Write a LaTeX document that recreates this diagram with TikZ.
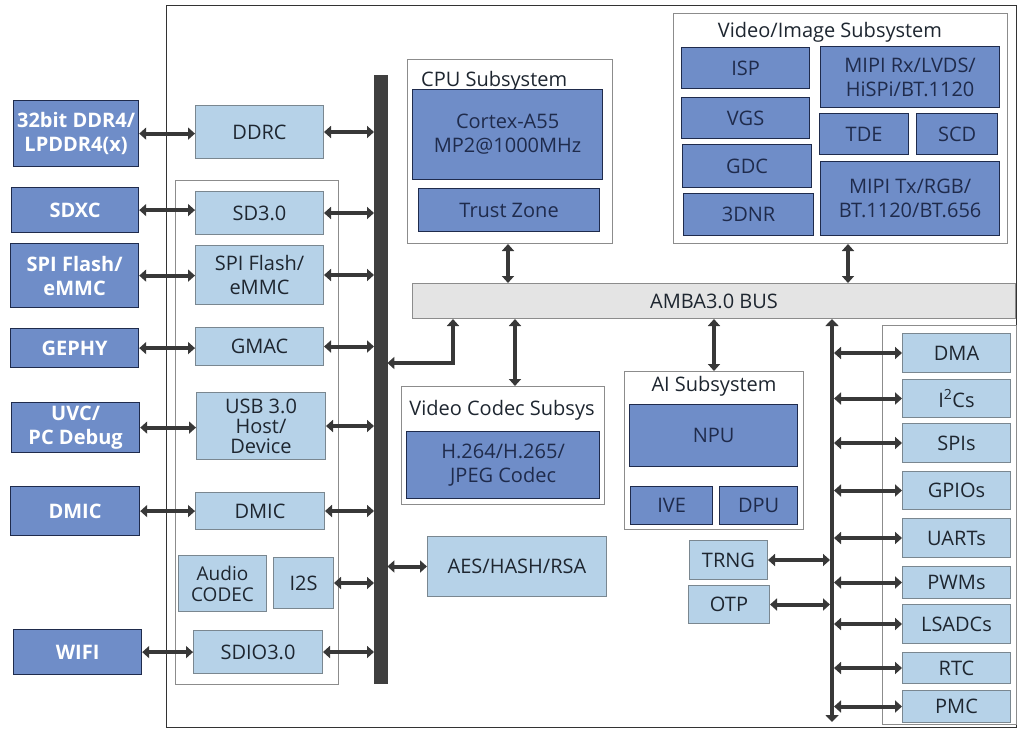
\documentclass[tikz,border=0pt]{standalone}
\usepackage{fontspec}
\setmainfont{Open Sans}
\usetikzlibrary{arrows.meta}
\definecolor{extblue}{HTML}{6F8DC8}
\definecolor{navy}{HTML}{1F2B4C}
\definecolor{ltblue}{HTML}{B6D2E8}
\definecolor{ltborder}{HTML}{7A8790}
\definecolor{grpgray}{HTML}{8C8C8C}
\definecolor{bargray}{HTML}{3F3F3F}
\definecolor{ambagray}{HTML}{E4E4E4}
\definecolor{txtdark}{HTML}{1E2630}
\definecolor{arrgray}{HTML}{383838}
\newcommand\mybox[7]{\node[#1,anchor=north west,minimum width=#5pt-#3pt,minimum height=#6pt-#4pt,inner sep=0pt] (#2) at (#3,#4) {#7};}
\tikzset{
  ext/.style={fill=extblue,draw=navy,line width=1.2pt,text=white,font=\fontsize{20}{24}\selectfont\bfseries,align=center},
  dk/.style={fill=extblue,draw=navy,line width=1.2pt,text=navy,align=center},
  lt/.style={fill=ltblue,draw=ltborder,line width=1pt,text=txtdark,align=center},
  grp/.style={fill=white,draw=grpgray,line width=1pt},
  bus/.style={fill=bargray,draw=bargray},
  amb/.style={fill=ambagray,draw=grpgray,line width=1pt,text=txtdark},
  ttl/.style={text=txtdark,inner sep=0pt},
  barrow/.style={draw=arrgray,line width=4pt,{Triangle[length=7pt,width=12pt]}-{Triangle[length=7pt,width=12pt]}},
  rbus/.style={draw=arrgray,line width=4.5pt,{Triangle[length=7pt,width=13pt]}-{Triangle[length=7pt,width=13pt]}}
}
\begin{document}
\begin{tikzpicture}[x=1pt,y=-1pt,font=\fontsize{20}{24}\selectfont]
\useasboundingbox (0,0) rectangle (1017,729);
\draw[draw=black!80,line width=1pt] (166,5) rectangle (1016,727);
% left group and bar
\mybox{grp}{grpL}{175}{180}{338}{684}{}
\mybox{bus}{bar}{374}{75}{387}{683}{}
% external devices
\mybox{ext}{ddr}{13}{100}{138}{166}{32bit DDR4/\\LPDDR4(x)}
\mybox{ext}{sdxc}{11}{187}{138}{232}{SDXC}
\mybox{ext}{spix}{10}{243}{138}{307}{SPI Flash/\\eMMC}
\mybox{ext}{gephy}{10}{328}{138}{367}{GEPHY}
\mybox{ext}{uvc}{11}{402}{139}{452}{UVC/\\PC Debug}
\mybox{ext}{dmicx}{10}{486}{139}{535}{DMIC}
\mybox{ext}{wifi}{13}{629}{141}{674}{WIFI}
% inner peripherals
\mybox{lt}{ddrc}{195}{105}{323}{158}{DDRC}
\mybox{lt}{sd}{195}{191}{323}{234}{SD3.0}
\mybox{lt}{spi}{195}{245}{323}{304}{SPI Flash/\\eMMC}
\mybox{lt}{gmac}{195}{327}{323}{365}{GMAC}
\mybox{lt,font=\fontsize{20}{20}\selectfont}{usb}{196}{392}{325}{459}{USB 3.0\\Host/\\Device}
\mybox{lt}{dmic}{195}{492}{324}{529}{DMIC}
\mybox{lt,font=\fontsize{19}{21}\selectfont}{audio}{178}{555}{266}{611}{Audio\\CODEC}
\mybox{lt}{i2s}{273}{557}{333}{608}{I2S}
\mybox{lt}{sdio}{193}{630}{322}{673}{SDIO3.0}
\mybox{lt}{aes}{427}{536}{606}{596}{AES/HASH/RSA}
% CPU subsystem
\mybox{grp}{cpu}{407}{59}{612}{243}{}
\node[ttl,anchor=base west] (cputtl) at (421,86) {CPU Subsystem};
\mybox{dk}{cortex}{412}{89}{602}{179}{Cortex-A55\\MP2@1000MHz}
\mybox{dk}{tz}{418}{188}{599}{231}{Trust Zone}
% Video/Image subsystem
\mybox{grp}{vis}{673}{13}{1007}{243}{}
\node[ttl,anchor=base] (visttl) at (830,37) {Video/Image Subsystem};
\mybox{dk}{isp}{681}{47}{809}{88}{ISP}
\mybox{dk}{vgs}{681}{97}{809}{138}{VGS}
\mybox{dk}{gdc}{682}{144}{811}{187}{GDC}
\mybox{dk}{dnr}{683}{193}{813}{235}{3DNR}
\mybox{dk}{mipirx}{820}{46}{999}{107}{MIPI Rx/LVDS/\\HiSPi/BT.1120}
\mybox{dk}{tde}{819}{113}{908}{154}{TDE}
\mybox{dk}{scd}{916}{113}{997}{154}{SCD}
\mybox{dk}{mipitx}{820}{161}{999}{235}{MIPI Tx/RGB/\\BT.1120/BT.656}
% AMBA bus
\mybox{amb}{amba}{412}{283}{1015}{318}{AMBA3.0 BUS}
% Video codec
\mybox{grp}{vcs}{401}{386}{604}{504}{}
\node[ttl,anchor=base] (vcsttl) at (502,415) {Video Codec Subsys};
\mybox{dk}{h264}{406}{431}{599}{498}{H.264/H.265/\\JPEG Codec}
% AI subsystem
\mybox{grp}{ai}{624}{371}{803}{529}{}
\node[ttl,anchor=base] (aittl) at (714,391) {AI Subsystem};
\mybox{dk}{npu}{629}{404}{797}{466}{NPU}
\mybox{dk}{ive}{630}{486}{712}{524}{IVE}
\mybox{dk}{dpu}{719}{486}{797}{524}{DPU}
% TRNG / OTP
\mybox{lt}{trng}{689}{540}{767}{579}{TRNG}
\mybox{lt}{otp}{688}{585}{769}{623}{OTP}
% right panel
\mybox{grp}{rpanel}{882}{325}{1016}{724}{}
\mybox{lt}{dma}{902}{333}{1010}{372}{DMA}
\mybox{lt}{i2c}{902}{379}{1010}{417}{I\textsuperscript{2}Cs}
\mybox{lt}{spis}{902}{423}{1010}{462}{SPIs}
\mybox{lt}{gpio}{902}{471}{1010}{509}{GPIOs}
\mybox{lt}{uart}{902}{518}{1010}{557}{UARTs}
\mybox{lt}{pwm}{902}{566}{1010}{598}{PWMs}
\mybox{lt}{lsadc}{902}{604}{1010}{643}{LSADCs}
\mybox{lt}{rtc}{902}{652}{1010}{683}{RTC}
\mybox{lt}{pmc}{902}{690}{1010}{722}{PMC}
% connectors: external to inner
\draw[barrow] (ddr.east) -- (ddr.east -| ddrc.west);
\draw[barrow] (sdxc.east) -- (sdxc.east -| sd.west);
\draw[barrow] (spix.east) -- (spix.east -| spi.west);
\draw[barrow] (gephy.east) -- (gephy.east -| gmac.west);
\draw[barrow] (uvc.east) -- (uvc.east -| usb.west);
\draw[barrow] (dmicx.east) -- (dmicx.east -| dmic.west);
\draw[barrow] (wifi.east) -- (wifi.east -| sdio.west);
% inner to bar
\draw[barrow] (ddrc.east) -- (ddrc.east -| bar.west);
\draw[barrow] (sd.east) -- (sd.east -| bar.west);
\draw[barrow] (spi.east) -- (spi.east -| bar.west);
\draw[barrow] (gmac.east) -- (gmac.east -| bar.west);
\draw[barrow] (usb.east) -- (usb.east -| bar.west);
\draw[barrow] (dmic.east) -- (dmic.east -| bar.west);
\draw[barrow] (i2s.east) -- (i2s.east -| bar.west);
\draw[barrow] (sdio.east) -- (sdio.east -| bar.west);
\draw[barrow] (aes.west) -- (aes.west -| bar.east);
% bar to AMBA elbow
\coordinate (elb) at (453,363);
\draw[barrow] (elb |- amba.south) |- (bar.east |- elb);
% subsystems to AMBA
\coordinate (cpux) at (508,0);
\coordinate (visx) at (848,0);
\coordinate (vcsx) at (515,0);
\coordinate (aix) at (714,0);
\draw[barrow] (cpux |- cpu.south) -- (cpux |- amba.north);
\draw[barrow] (visx |- vis.south) -- (visx |- amba.north);
\draw[barrow] (vcsx |- amba.south) -- (vcsx |- vcs.north);
\draw[barrow] (aix |- amba.south) -- (aix |- ai.north);
% right bus
\coordinate (rb) at (832,722);
\draw[rbus] (rb |- amba.south) -- (rb);
\foreach \n in {dma,i2c,spis,gpio,uart,pwm,lsadc,rtc,pmc}
  \draw[barrow] ([xshift=2pt]rb |- \n.west) -- (\n.west);
\draw[barrow] (trng.east) -- ([xshift=-2pt]rb |- trng.east);
\draw[barrow] (otp.east) -- ([xshift=-2pt]rb |- otp.east);
\end{tikzpicture}
\end{document}
